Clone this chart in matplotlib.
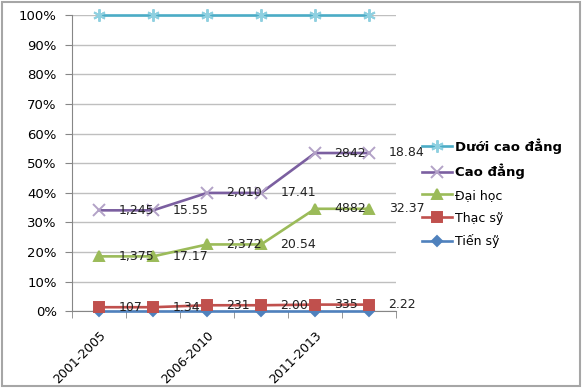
import matplotlib.pyplot as plt
from matplotlib.patches import Rectangle
from matplotlib.transforms import ScaledTranslation
import numpy as np

periods = ["2001-2005", "2006-2010", "2011-2013"]
# each period has two columns: head count and percent
tick_labels = ["2001-2005", "", "2006-2010", "", "2011-2013", ""]

tien_sy = [0, 0, 0, 0, 0, 0]
thac_sy = [107, 1.34, 231, 2.00, 335, 2.22]
dai_hoc = [1375, 17.17, 2372, 20.54, 4882, 32.37]
cao_dang = [1245, 15.55, 2010, 17.41, 2842, 18.84]
duoi_cao_dang = [5279, 65.94, 6935, 60.05, 7026, 46.57]

thac_sy_labels = ["107", "1.34", "231", "2.00", "335", "2.22"]
dai_hoc_labels = ["1,375", "17.17", "2,372", "20.54", "4882", "32.37"]
cao_dang_labels = ["1,245", "15.55", "2,010", "17.41", "2842", "18.84"]

names = ["Tiến sỹ", "Thạc sỹ", "Đại học", "Cao đẳng", "Dưới cao đẳng"]
colors = ["#4f81bd", "#c0504d", "#9bbb59", "#7b5fa0", "#4bacc6"]
mcolors = ["#4f81bd", "#c0504d", "#9bbb59", "#b3a2c7", "#8fd0e0"]
markers = ["D", "s", "^", "x", (6, 2, 0)]
msizes = [5.5, 7, 6.5, 8, 9]
labels = [None, thac_sy_labels, dai_hoc_labels, cao_dang_labels, None]

data = np.array([tien_sy, thac_sy, dai_hoc, cao_dang, duoi_cao_dang], dtype=float)
stacked = data.cumsum(axis=0) / data.sum(axis=0) * 100

fig = plt.figure(figsize=(5.83, 3.88), dpi=100)
ax = fig.add_axes([0.1235, 0.198, 0.556, 0.763])
x = np.arange(6)

handles = []
for i in range(5):
    h, = ax.plot(x, stacked[i], color=colors[i], lw=1.9, marker=markers[i],
                 ms=msizes[i], mfc=mcolors[i], mec=mcolors[i], mew=1.4,
                 label=names[i], zorder=3 + i, clip_on=False)
    handles.append(h)
    if labels[i] is not None:
        for xi, yi, t in zip(x, stacked[i], labels[i]):
            ax.annotate(t, (xi, yi), xytext=(14, 0), textcoords="offset points",
                        va="center", ha="left", fontsize=9, color="#222222",
                        zorder=10)

ax.set_xlim(-0.5, 5.5)
ax.set_ylim(0, 100)
ax.set_yticks(np.arange(0, 101, 10))
ax.set_yticklabels([f"{v}%" for v in range(0, 101, 10)], fontsize=9.5)
ax.set_xticks(x)
ax.set_xticklabels(tick_labels, rotation=45, ha="right", rotation_mode="anchor", fontsize=9)
shift = ScaledTranslation(-7 / 100, 0, fig.dpi_scale_trans)
for lab in ax.get_xticklabels():
    lab.set_transform(lab.get_transform() + shift)
ax.set_xticks(np.arange(-0.5, 6, 1), minor=True)
ax.tick_params(axis="x", which="major", length=0, pad=13)
ax.tick_params(axis="x", which="minor", length=5, color="#868686")
ax.tick_params(axis="y", length=5, color="#868686", pad=6)
ax.grid(axis="y", color="#bfbfbf", lw=1)
ax.set_axisbelow(True)
for s in ["top", "right"]:
    ax.spines[s].set_visible(False)
for s in ["left", "bottom"]:
    ax.spines[s].set_color("#868686")

leg = fig.legend(handles[::-1], names[::-1], loc="upper left",
                 bbox_to_anchor=(0.705, 0.673), frameon=False, fontsize=9,
                 handlelength=2.4, handletextpad=0.2, labelspacing=0.78)
for t in leg.get_texts()[:2]:
    t.set_fontweight("bold")
    t.set_fontsize(9.5)

fig.patches.append(Rectangle((0.003, 0.004), 0.992, 0.992, transform=fig.transFigure,
                             fill=False, ec="#a6a6a6", lw=1.5))
fig.savefig("out.png", dpi=100)
